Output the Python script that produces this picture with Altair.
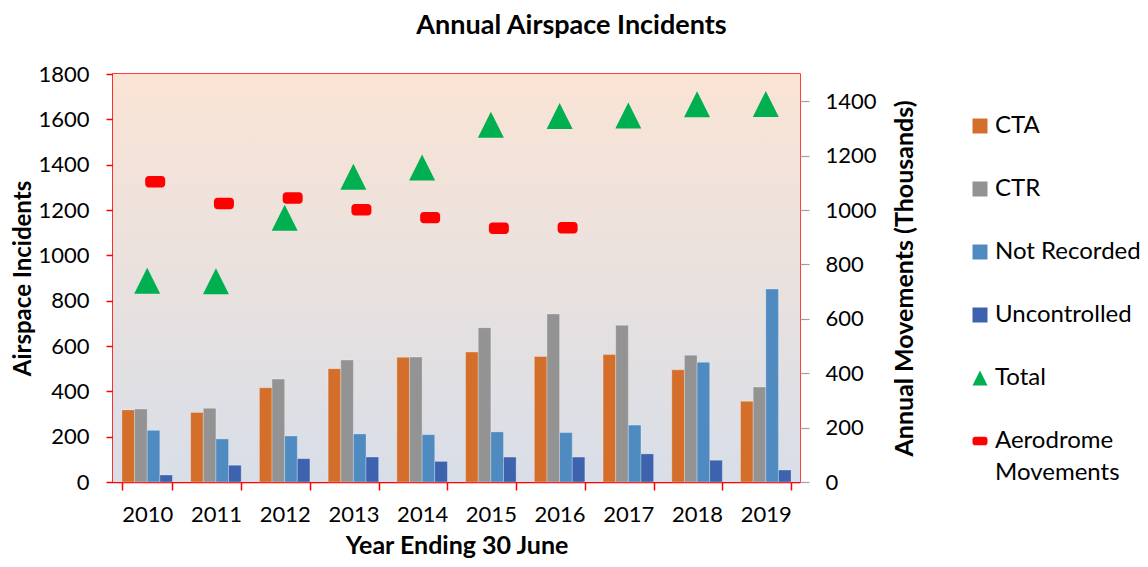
import altair as alt
import pandas as pd

# ---- data ----
years = ["2010", "2011", "2012", "2013", "2014", "2015", "2016", "2017", "2018", "2019"]
cta = [318, 307, 416, 500, 550, 573, 554, 562, 495, 356]
ctr = [322, 325, 454, 538, 551, 681, 741, 691, 559, 419]
not_recorded = [228, 190, 203, 212, 209, 221, 218, 251, 528, 851]
uncontrolled = [31, 74, 103, 110, 91, 110, 110, 124, 96, 53]
total = [888, 886, 1166, 1347, 1387, 1576, 1615, 1617, 1667, 1668]
aero_years = ["2010", "2011", "2012", "2013", "2014", "2015", "2016"]
aerodrome = [1104, 1024, 1044, 1001, 972, 933, 935]

bar_series = ["CTA", "CTR", "Not Recorded", "Uncontrolled"]
all_series = bar_series + ["Total", "Aerodrome Movements"]
colors = ["#D36E2B", "#939393", "#4F8AC0", "#3D63AE", "#00B050", "#FF0000"]

TRI = "M0,-1 L1,1 L-1,1 Z"
PILL = ("M-0.65,-0.57 L0.65,-0.57 A0.35,0.35 0 0 1 1,-0.22 L1,0.22 "
        "A0.35,0.35 0 0 1 0.65,0.57 L-0.65,0.57 A0.35,0.35 0 0 1 -1,0.22 "
        "L-1,-0.22 A0.35,0.35 0 0 1 -0.65,-0.57 Z")
shapes = ["square", "square", "square", "square", TRI, PILL]

rows = []
for name, vals in zip(bar_series, [cta, ctr, not_recorded, uncontrolled]):
    for y, v in zip(years, vals):
        rows.append({"year": y, "series": name, "value": v})
bars_df = pd.DataFrame(rows)
total_df = pd.DataFrame({"year": years, "series": "Total", "value": total})
aero_df = pd.DataFrame({"year": aero_years, "series": "Aerodrome Movements", "value": aerodrome})
bg_df = pd.DataFrame({"a": [0]})

W, H = 687, 408
FONT = "Lato"

xscale = alt.Scale(domain=years, paddingInner=0.265, paddingOuter=0.13)
color_scale = alt.Scale(domain=all_series, range=colors)
shape_scale = alt.Scale(domain=all_series, range=shapes)

legend = alt.Legend(
    title=None, orient="none", legendX=855, legendY=40,
    symbolSize=225, labelFontSize=24, labelFont=FONT, labelColor="#000000",
    rowPadding=39, labelOffset=3, symbolStrokeWidth=0, padding=0,
    labelExpr="datum.label == 'Aerodrome Movements' ? ['Aerodrome', 'Movements'] : datum.label",
)

background = alt.Chart(bg_df).mark_rect(
    color=alt.Gradient(
        gradient="linear", x1=0, x2=0, y1=0, y2=1,
        stops=[alt.GradientStop(color="#FAE4D5", offset=0),
               alt.GradientStop(color="#D8DEE8", offset=1)],
    )
).encode(x=alt.value(0), x2=alt.value(W), y=alt.value(0), y2=alt.value(H))

x_enc = alt.X(
    "year:N", scale=xscale, sort=years,
    axis=alt.Axis(title="Year Ending 30 June", labelAngle=0, tickBand="extent",
                  domainColor="#FF0000", domainWidth=1.5, tickColor="#FF0000",
                  tickWidth=1.5, tickSize=8, labelPadding=14, titlePadding=8),
)

y_left = alt.Y(
    "value:Q", scale=alt.Scale(domain=[0, 1800], nice=False),
    axis=alt.Axis(title="Airspace Incidents", values=list(range(0, 1801, 200)),
                  format="d", grid=False, domainColor="#FF0000", domainWidth=1.5,
                  tickColor="#FF0000", tickWidth=1.5, tickSize=7,
                  labelPadding=17, titlePadding=2, titleFontSize=24),
)

bars = alt.Chart(bars_df).mark_bar(stroke="#FFFFFF", strokeOpacity=0.35, strokeWidth=0.8).encode(
    x=x_enc,
    xOffset=alt.XOffset("series:N", scale=alt.Scale(domain=bar_series, paddingInner=0), sort=bar_series),
    y=y_left,
    color=alt.Color("series:N", scale=color_scale, legend=legend),
)

tri = alt.Chart(total_df).mark_point(filled=True, opacity=1, size=676, strokeWidth=0).encode(
    x=alt.X("year:N", scale=xscale, sort=years),
    y=alt.Y("value:Q", scale=alt.Scale(domain=[0, 1800], nice=False)),
    color=alt.Color("series:N", scale=color_scale, legend=legend),
    shape=alt.Shape("series:N", scale=shape_scale, legend=legend),
)

left_layer = alt.layer(background, bars, tri)

aero = alt.Chart(aero_df).mark_point(filled=True, opacity=1, size=400, strokeWidth=0, xOffset=8).encode(
    x=alt.X("year:N", scale=xscale, sort=years),
    y=alt.Y("value:Q", scale=alt.Scale(domain=[0, 1500], nice=False),
            axis=alt.Axis(title="Annual Movements (Thousands)", orient="right",
                          values=list(range(0, 1401, 200)), format="d", grid=False,
                          domain=False, tickColor="#A0A0A0", tickWidth=1.2,
                          tickSize=9, labelPadding=16, titlePadding=16,
                          titleAngle=270, titleBaseline="top")),
    color=alt.Color("series:N", scale=color_scale, legend=legend),
    shape=alt.Shape("series:N", scale=shape_scale, legend=legend),
)

chart = alt.layer(left_layer, aero).resolve_scale(y="independent").properties(
    width=W, height=H,
    autosize=alt.AutoSizeParams(type="none"),
    padding={"left": 105, "top": 66, "right": 340, "bottom": 77},
    title=alt.TitleParams("Annual Airspace Incidents", fontSize=27, font=FONT,
                          fontWeight="bold", color="#000000", dx=115, offset=23),
).configure(
    style={"guide-label": {"lineHeight": 32}},
).configure_view(
    stroke="#FF0000", strokeWidth=1.5,
).configure_axis(
    labelFont=FONT, labelFontSize=22, labelColor="#000000",
    titleFont=FONT, titleFontSize=25, titleFontWeight="bold", titleColor="#000000",
).configure_legend(
    labelFont=FONT,
)

chart.save("out.html", embed_options={"renderer": "svg", "actions": False})
